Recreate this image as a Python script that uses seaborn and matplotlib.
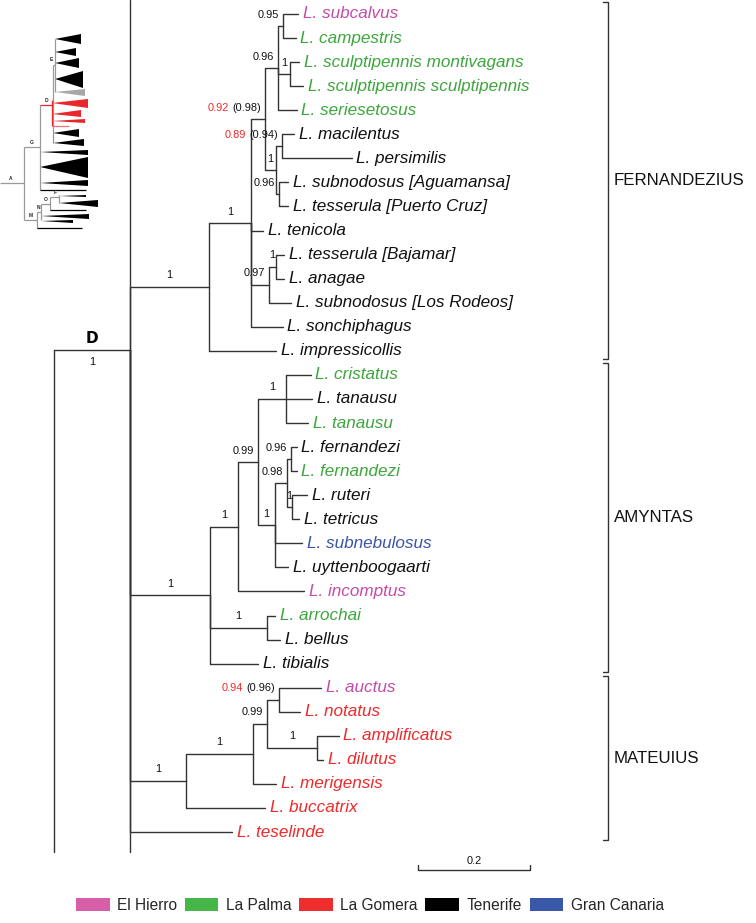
import matplotlib
matplotlib.use("Agg")
import matplotlib.pyplot as plt
import seaborn as sns
import pandas as pd
from matplotlib.patches import Patch

# ------------------------------------------------------------------ data
tip_names = [
    "L. subcalvus", "L. campestris", "L. sculptipennis montivagans",
    "L. sculptipennis sculptipennis", "L. seriesetosus", "L. macilentus",
    "L. persimilis", "L. subnodosus [Aguamansa]", "L. tesserula [Puerto Cruz]",
    "L. tenicola", "L. tesserula [Bajamar]", "L. anagae",
    "L. subnodosus [Los Rodeos]", "L. sonchiphagus", "L. impressicollis",
    "L. cristatus", "L. tanausu", "L. tanausu", "L. fernandezi", "L. fernandezi",
    "L. ruteri", "L. tetricus", "L. subnebulosus", "L. uyttenboogaarti",
    "L. incomptus", "L. arrochai", "L. bellus", "L. tibialis",
    "L. auctus", "L. notatus", "L. amplificatus", "L. dilutus",
    "L. merigensis", "L. buccatrix", "L. teselinde",
]
tip_parent = [
    "F4", "F4", "F5", "F5", "F3", "F7", "F7", "F8", "F8", "F1", "F10", "F10",
    "F9", "F1", "F0",
    "A3", "A3", "A3", "A6", "A6", "A7", "A7", "A4", "A4", "A1", "A8", "A8", "A0",
    "M3", "M3", "M4", "M4", "M1", "M0", "D",
]
tip_depth = [
    0.300, 0.296, 0.302, 0.309, 0.298, 0.293, 0.396, 0.282, 0.282, 0.238,
    0.275, 0.275, 0.288, 0.273, 0.261,
    0.323, 0.325, 0.318, 0.298, 0.298, 0.316, 0.302, 0.307, 0.282, 0.311,
    0.259, 0.268, 0.229,
    0.341, 0.304, 0.373, 0.345, 0.261, 0.241, 0.182,
]
tip_island = [
    "El Hierro", "La Palma", "La Palma", "La Palma", "La Palma", "Tenerife",
    "Tenerife", "Tenerife", "Tenerife", "Tenerife", "Tenerife", "Tenerife",
    "Tenerife", "Tenerife", "Tenerife",
    "La Palma", "Tenerife", "La Palma", "Tenerife", "La Palma", "Tenerife",
    "Tenerife", "Gran Canaria", "Tenerife", "El Hierro", "La Palma", "Tenerife",
    "Tenerife",
    "El Hierro", "La Gomera", "La Gomera", "La Gomera", "La Gomera",
    "La Gomera", "La Gomera",
]

node_names = ["D", "F0", "F1", "F2", "F3", "F4", "F5", "F6", "F7", "F8", "F9",
              "F10", "A0", "A1", "A2", "A3", "A4", "A5", "A6", "A7", "A8",
              "M0", "M1", "M2", "M3", "M4"]
node_parent = [None, "D", "F0", "F1", "F2", "F3", "F3", "F2", "F6", "F6", "F1",
               "F9", "D", "A0", "A1", "A2", "A2", "A4", "A5", "A5", "A0",
               "D", "M0", "M1", "M2", "M2"]
node_depth = [0.0, 0.141, 0.216, 0.241, 0.264, 0.273, 0.286, 0.261, 0.271,
              0.266, 0.248, 0.261, 0.143, 0.193, 0.229, 0.279, 0.259, 0.280,
              0.288, 0.289, 0.245, 0.100, 0.220, 0.245, 0.266, 0.334]
node_support = ["1", "1", "1", "(0.98)", "0.96", "0.95", "1", "1", "(0.94)",
                "0.96", "0.97", "1", "1", "1", "0.99", "1", "1", "0.98",
                "0.96", "1", "1", "1", "1", "0.99", "(0.96)", "1"]
node_support_red = ["", "", "", "0.92", "", "", "", "", "0.89", "", "", "",
                    "", "", "", "", "", "", "", "", "", "", "", "", "0.94", ""]

stem_depth = -0.136      # ancestor of clade D (cropped)
stem_row = 13.97
stem_label = "D"
stem_support = "1"
crop_rows = (-0.6, 34.83)

clade_names = ["FERNANDEZIUS", "AMYNTAS", "MATEUIUS"]
clade_first_tip = [0, 15, 28]
clade_last_tip = [14, 27, 34]

island_names = ["El Hierro", "La Palma", "La Gomera", "Tenerife", "Gran Canaria"]
island_patch_colors = ["#D65FA8", "#46B649", "#EE2D2D", "#000000", "#3A58A8"]
island_text_colors = ["#C54CA6", "#3DA63D", "#EE2A2A", "#111111", "#3A55A8"]

scale_length = 0.2
scale_start = 0.514

# overview thumbnail (pixel sketch of the whole tree)
thumb_lines = [  # x0, y0, x1, y1, colour key
    (0, 183, 24, 183, "g"), (24, 147, 24, 220, "g"), (24, 147, 40, 147, "g"),
    (40, 105, 40, 190, "g"), (40, 105, 52, 105, "r"), (53, 65, 53, 143, "g"),
    (52, 100, 52, 126, "r"), (53, 65, 55, 65, "g"), (55, 39, 55, 92, "g"),
    (24, 220, 37, 220, "g"), (37, 212, 37, 228, "g"), (37, 212, 41, 212, "g"),
    (41, 204, 41, 220, "g"), (41, 204, 50, 204, "g"), (50, 197, 50, 210, "g"),
    (50, 197, 59, 197, "g"), (59, 195, 59, 203, "g"),
    (52, 126, 69, 126, "lr"), (40, 190, 86, 190, "k"), (50, 210, 86, 210, "k"),
    (37, 228, 82, 228, "k"),
]
thumb_wedges = [  # apex x, apex y, base x, base top, base bottom, colour key
    (55, 39, 81, 34, 44, "k"), (55, 52, 76, 48, 56, "k"), (55, 63, 79, 58, 68, "k"),
    (55, 79, 83, 71, 88, "k"), (55, 92, 85, 89, 96, "lg"),
    (52, 103, 88, 99, 108, "r"), (52, 114, 81, 110, 117, "r"), (52, 121, 85, 119, 123, "r"),
    (53, 133, 79, 129, 137, "k"), (53, 143, 84, 139, 146, "k"),
    (40, 152, 88, 150, 155, "k"), (40, 167, 88, 157, 178, "k"), (40, 183, 88, 180, 186, "k"),
    (59, 196, 86, 195, 197, "k"), (59, 203, 98, 200, 207, "k"),
    (41, 216, 89, 214, 219, "k"), (41, 221, 73, 220, 223, "k"),
]
thumb_labels = [("A", 11, 182), ("G", 32, 146), ("D", 46, 104), ("E", 51, 63),
                ("M", 31, 219), ("N", 38, 211), ("O", 46, 203), ("F", 55, 196)]
thumb_colors = {"g": "#9a9a9a", "lg": "#a8a8a8", "r": "#E8262B", "lr": "#F07373", "k": "#000000"}

# ------------------------------------------------------------------ layout
W, H = 756, 923
PX_UNIT = 560.0      # pixels per substitution unit
ROW_PX = 24.06       # pixels per tip row
TOP_PX = 14.0
LINE = "#333333"
RED = "#EE2A2A"
SUP_FS = 7.9

sns.set_theme(style="white")
plt.rcParams["font.family"] = ["Liberation Sans", "DejaVu Sans"]

fig = plt.figure(figsize=(W / 100, H / 100), dpi=100)
ax = fig.add_axes([0, 0, 1, 1])


def px(p):
    return p / PX_UNIT


def rows(p):
    return p / ROW_PX


depth = dict(zip(node_names, node_depth))
children = {n: [] for n in node_names}
for i, p in enumerate(tip_parent):
    children[p].append(("t", i))
for n, p in zip(node_names, node_parent):
    if p is not None:
        children[p].append(("n", n))

ypos = {}


def gety(key):
    kind, k = key
    if kind == "t":
        return float(k)
    if k not in ypos:
        ys = [gety(c) for c in children[k]]
        ypos[k] = (min(ys) + max(ys)) / 2
    return ypos[k]


for n in node_names:
    gety(("n", n))
ypos["D"] = stem_row

recs = []
eid = 0
for n, p in zip(node_names, node_parent):
    if p is None:
        continue
    for x, y in [(depth[p], ypos[p]), (depth[p], ypos[n]), (depth[n], ypos[n])]:
        recs.append({"edge": eid, "x": x, "y": y})
    eid += 1
for i, (p, d) in enumerate(zip(tip_parent, tip_depth)):
    for x, y in [(depth[p], ypos[p]), (depth[p], float(i)), (d, float(i))]:
        recs.append({"edge": eid, "x": x, "y": y})
    eid += 1
for seg in [[(0.0, crop_rows[0]), (0.0, crop_rows[1])],
            [(stem_depth, stem_row), (0.0, stem_row)],
            [(stem_depth, stem_row), (stem_depth, crop_rows[1])]]:
    for x, y in seg:
        recs.append({"edge": eid, "x": x, "y": y})
    eid += 1
edges = pd.DataFrame(recs)

sns.lineplot(data=edges, x="x", y="y", units="edge", estimator=None, sort=False,
             color=LINE, linewidth=1.0, ax=ax, legend=False)

# tip labels
tcol = dict(zip(island_names, island_text_colors))
for i, (name, d, isl) in enumerate(zip(tip_names, tip_depth, tip_island)):
    ax.annotate(name, (d, i), xytext=(3.3, 0), textcoords="offset points",
                ha="left", va="center", fontsize=12.3, style="italic",
                color=tcol[isl])

# support values
for n, p, s, r in zip(node_names, node_parent, node_support, node_support_red):
    if p is None:
        continue
    xn, yn = depth[n], ypos[n]
    ylab = yn - rows(11.5)
    if s == "1" and not r:
        ax.text((depth[p] + xn) / 2, ylab, s, ha="center", va="center",
                fontsize=SUP_FS, color="#111111")
    else:
        t = ax.text(xn - px(4), ylab, s, ha="right", va="center",
                    fontsize=SUP_FS, color="#111111")
        if r:
            ax.annotate(r, xy=(0, 0.5), xycoords=t, xytext=(-2.2, 0),
                        textcoords="offset points", ha="right", va="center",
                        fontsize=SUP_FS, color=RED)

ax.text(stem_depth / 2 + px(0.5), stem_row - rows(11.5), stem_label, ha="center",
        va="center", fontsize=11, fontweight="heavy", family="DejaVu Sans",
        color="#000000")
ax.text(stem_depth / 2, stem_row + rows(12), stem_support, ha="center",
        va="center", fontsize=SUP_FS, color="#111111")

# clade brackets
bx = px(608 - 130)
for name, a, b in zip(clade_names, clade_first_tip, clade_last_tip):
    y0, y1 = a - 0.48, b + 0.35
    ax.plot([bx - px(5), bx, bx, bx - px(5)], [y0, y0, y1, y1], color=LINE,
            lw=1.0, solid_joinstyle="miter")
    ax.text(bx + px(6), (y0 + y1) / 2, name, ha="left", va="center",
            fontsize=12.2, color="#111111")

# scale bar
sy = rows(870 - TOP_PX)
ax.plot([scale_start, scale_start, scale_start + scale_length, scale_start + scale_length],
        [sy - rows(5), sy, sy, sy - rows(5)], color=LINE, lw=1.0)
ax.text(scale_start + scale_length / 2, sy - rows(9), f"{scale_length:g}",
        ha="center", va="center", fontsize=SUP_FS, color="#111111")

ax.set_xlim(-130 / PX_UNIT, (W - 130) / PX_UNIT)
ax.set_ylim((H - TOP_PX) / ROW_PX, -TOP_PX / ROW_PX)
ax.axis("off")

# legend
handles = [Patch(facecolor=c, edgecolor="none") for c in island_patch_colors]
fig.legend(handles, island_names, loc="center", bbox_to_anchor=(370 / W, 1 - 905 / H),
           ncol=5, frameon=False, fontsize=11.2, handlelength=2.15,
           handleheight=0.9, handletextpad=0.5, columnspacing=0.48)

# overview thumbnail
ins = fig.add_axes([0, 1 - 270 / H, 130 / W, 270 / H])
for x0, y0, x1, y1, c in thumb_lines:
    ins.plot([x0, x1], [y0, y1], color=thumb_colors[c], lw=0.9,
             solid_capstyle="butt")
for axp, ayp, bxp, bt, bb, c in thumb_wedges:
    ins.fill([axp, bxp, bxp], [ayp, bt, bb], color=thumb_colors[c], lw=0)
for s, x, y in thumb_labels:
    ins.text(x, y - 1, s, ha="center", va="bottom", fontsize=3.5,
             fontweight="bold", color="#222222")
ins.set_xlim(0, 130)
ins.set_ylim(270, 0)
ins.axis("off")

fig.savefig("out.png", dpi=100)
